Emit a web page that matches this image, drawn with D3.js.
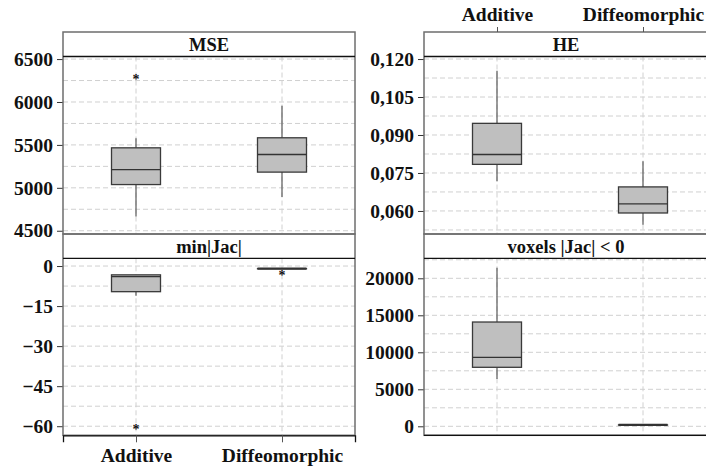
<!DOCTYPE html>
<html>
<head>
<meta charset="utf-8">
<script src="https://cdn.jsdelivr.net/npm/d3@7"></script>
<style>
  body { margin: 0; background: #fff; }
  svg text { font-family: "Liberation Serif", "DejaVu Serif", serif !important; font-weight: 700; }
</style>
</head>
<body>
<div id="chart"></div>
<script>
// categories and panel names
const categories = ["Additive", "Diffeomorphic"];
const panelNames = ["MSE", "HE", "min|Jac|", "voxels |Jac| < 0"];

// box stats per category: [lower whisker, q1, median, q3, upper whisker]
const mseStats = [[4666, 5038, 5213, 5466, 5579], [4892, 5183, 5388, 5583, 5956]];
const heStats = [[0.0717, 0.0784, 0.0823, 0.0946, 0.1154], [0.0546, 0.0592, 0.0628, 0.0695, 0.0796]];
const jacStats = [[-11.1, -9.6, -4.0, -3.3, -3.3], [-1.0, -1.0, -1.0, -1.0, -1.0]];
const voxStats = [[6390, 7973, 9322, 14093, 21430], [180, 180, 180, 180, 180]];

// outliers per category
const mseOutliers = [[6297], []];
const heOutliers = [[], []];
const jacOutliers = [[-60.1], [-2.3]];
const voxOutliers = [[], []];

// tick labels
const mseTicks = [4500, 5000, 5500, 6000, 6500];
const heTicks = [0.060, 0.075, 0.090, 0.105, 0.120];
const jacTicks = [-60, -45, -30, -15, 0];
const voxTicks = [0, 5000, 10000, 15000, 20000];

const W = 706, H = 468;
const FONT = "Liberation Serif, DejaVu Serif, serif";
const svg = d3.select("#chart").append("svg")
  .attr("width", W).attr("height", H);

const cols = [[63, 355], [424, 716]];
const rows = [{top: 32, strip: 56.5, bottom: 234}, {top: 234, strip: 258.3, bottom: 435.3}];

const panels = [
  {name: panelNames[0], stats: mseStats, out: mseOutliers, ticks: mseTicks, domain: [4462, 6530], step: 250, fmt: d3.format("d"), col: 0, row: 0},
  {name: panelNames[1], stats: heStats, out: heOutliers, ticks: heTicks, domain: [0.0509, 0.121], step: 0.0075, fmt: d => d3.format(".3f")(d).replace(".", ","), col: 1, row: 0},
  {name: panelNames[2], stats: jacStats, out: jacOutliers, ticks: jacTicks, domain: [-63.4, 2.9], step: 7.5, fmt: d3.format("d"), col: 0, row: 1},
  {name: panelNames[3], stats: voxStats, out: voxOutliers, ticks: voxTicks, domain: [-1216, 22703], step: 2500, fmt: d3.format("d"), col: 1, row: 1}
];

const boxW = 49;

function styleText(sel, size) {
  sel.attr("font-size", size).attr("fill", "#111")
    .attr("font-family", FONT).attr("font-weight", "bold");
}

panels.forEach(p => {
  const [x0, x1] = cols[p.col];
  const r = rows[p.row];
  const x = d3.scalePoint().domain(categories).range([x0, x1]).padding(0.5);
  const y = d3.scaleLinear().domain(p.domain).range([r.bottom, r.strip]);
  const g = svg.append("g");

  // grid: major + minor horizontal lines
  const gridVals = d3.range(p.ticks[0] - 4 * p.step, p.ticks[p.ticks.length - 1] + 4 * p.step + 1e-9, p.step)
    .filter(v => v >= p.domain[0] && v <= p.domain[1]);
  g.selectAll(".hgrid").data(gridVals).enter().append("line")
    .attr("x1", x0).attr("x2", x1)
    .attr("y1", d => y(d)).attr("y2", d => y(d))
    .attr("stroke", "#d0d0d0").attr("stroke-dasharray", "5,3");
  g.selectAll(".vgrid").data(categories).enter().append("line")
    .attr("x1", d => x(d)).attr("x2", d => x(d))
    .attr("y1", r.strip).attr("y2", r.bottom)
    .attr("stroke", "#d0d0d0").attr("stroke-dasharray", "5,3");

  // y axis
  const yAxis = g.append("g")
    .attr("transform", `translate(${x0},0)`)
    .call(d3.axisLeft(y).tickValues(p.ticks).tickFormat(p.fmt).tickSize(6).tickPadding(4));
  yAxis.attr("font-family", FONT);
  yAxis.select(".domain").remove();
  yAxis.selectAll(".tick line").attr("stroke", "#333");
  styleText(yAxis.selectAll(".tick text"), 19.5);

  // boxes
  const bx = g.selectAll(".box").data(categories).enter().append("g");
  bx.append("line")
    .attr("x1", d => x(d)).attr("x2", d => x(d))
    .attr("y1", (d, i) => y(p.stats[i][0])).attr("y2", (d, i) => y(p.stats[i][1]))
    .attr("stroke", "#666").attr("stroke-width", 1.3);
  bx.append("line")
    .attr("x1", d => x(d)).attr("x2", d => x(d))
    .attr("y1", (d, i) => y(p.stats[i][3])).attr("y2", (d, i) => y(p.stats[i][4]))
    .attr("stroke", "#666").attr("stroke-width", 1.3);
  bx.append("rect")
    .attr("x", d => x(d) - boxW / 2).attr("width", boxW)
    .attr("y", (d, i) => y(p.stats[i][3]))
    .attr("height", (d, i) => Math.max(0.01, y(p.stats[i][1]) - y(p.stats[i][3])))
    .attr("fill", "#bfbfbf").attr("stroke", "#3a3a3a").attr("stroke-width", 1.3);
  bx.append("line")
    .attr("x1", d => x(d) - boxW / 2).attr("x2", d => x(d) + boxW / 2)
    .attr("y1", (d, i) => y(p.stats[i][2])).attr("y2", (d, i) => y(p.stats[i][2]))
    .attr("stroke", "#333")
    .attr("stroke-width", (d, i) => p.stats[i][1] === p.stats[i][3] ? 2.2 : 1.3);

  // outliers
  categories.forEach((c, i) => {
    const t = g.selectAll(null).data(p.out[i]).enter().append("text")
      .attr("x", x(c)).attr("y", d => y(d) + 7.5)
      .attr("text-anchor", "middle")
      .text("*");
    styleText(t, 14);
  });

  // frame and strip
  g.append("rect")
    .attr("x", x0).attr("y", r.top).attr("width", x1 - x0).attr("height", r.bottom - r.top)
    .attr("fill", "none").attr("stroke", "#6e6e6e").attr("stroke-width", 1.5);
  g.append("line")
    .attr("x1", x0).attr("x2", x1).attr("y1", r.strip).attr("y2", r.strip)
    .attr("stroke", "#111").attr("stroke-width", 1.3);
  const st = g.append("text")
    .attr("x", (x0 + x1) / 2 - (p.col === 1 ? 4 : 0)).attr("y", (r.top + r.strip) / 2)
    .attr("dy", "0.35em").attr("text-anchor", "middle")
    .text(p.name);
  styleText(st, 18.5);

  // category axes: bottom for left column, top for right column
  if (p.col === 0 && p.row === 1) {
    const xa = g.append("g").attr("transform", `translate(0,${r.bottom})`)
      .call(d3.axisBottom(x).tickSize(7).tickPadding(6));
    xa.attr("font-family", FONT);
    xa.select(".domain").attr("stroke", "#111").attr("stroke-width", 1.3);
    xa.selectAll(".tick line").attr("stroke", "#555");
    styleText(xa.selectAll(".tick text"), 19.5);
  }
  if (p.col === 1 && p.row === 0) {
    const xa = g.append("g").attr("transform", `translate(0,${r.top})`)
      .call(d3.axisTop(x).tickSize(5).tickPadding(6));
    xa.attr("font-family", FONT);
    xa.select(".domain").remove();
    xa.selectAll(".tick line").attr("stroke", "#555");
    styleText(xa.selectAll(".tick text"), 19.5);
  }
  if (p.row === 1 && p.col === 1) {
    g.append("line").attr("x1", x0).attr("x2", x1).attr("y1", r.bottom).attr("y2", r.bottom)
      .attr("stroke", "#111").attr("stroke-width", 1.3);
  }
});
</script>
</body>
</html>
